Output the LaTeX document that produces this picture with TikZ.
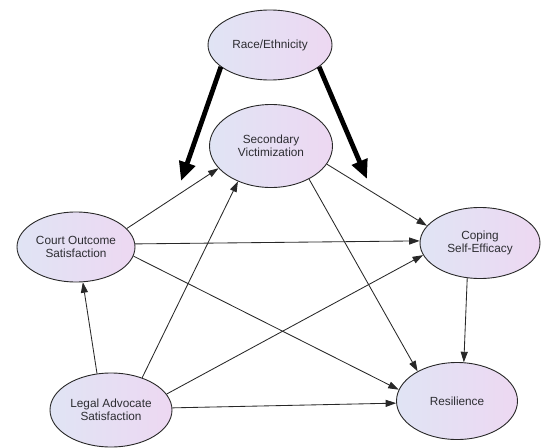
\documentclass[tikz,border=0pt]{standalone}
\usepackage{fontspec}
\setmainfont{Liberation Sans}
\usetikzlibrary{shapes.geometric,arrows.meta}
\definecolor{varleft}{RGB}{224,228,244}
\definecolor{varright}{RGB}{237,216,242}
\definecolor{linegray}{RGB}{40,40,40}
\definecolor{textgray}{RGB}{45,45,50}

\begin{document}
\begin{tikzpicture}[x=1pt,y=-1pt,
        var/.style={ellipse, draw=linegray, line width=0.9pt, left color=varleft, right color=varright,
            inner sep=0pt, align=center, text=textgray, font=\fontsize{11.8}{13.5}\selectfont},
        effect/.style={draw=linegray, line width=0.85pt, -{Triangle[length=10.5pt,width=7pt]}},
        moder/.style={line width=4.8pt, -{Triangle[length=19pt,width=16pt]}}]
        \useasboundingbox (0,0) rectangle (548,447);
        % Variables
        \node[var, minimum width=124pt, minimum height=70pt] (race) at (270,45) {Race/Ethnicity};
        \node[var, minimum width=123pt, minimum height=83pt] (secvic) at (271,146) {Secondary\\Victimization};
        \node[var, minimum width=118pt, minimum height=70pt] (court) at (76,247) {Court Outcome\\Satisfaction};
        \node[var, minimum width=120pt, minimum height=71pt] (coping) at (480,243) {Coping\\Self-Efficacy};
        \node[var, minimum width=122pt, minimum height=74pt] (legal) at (111,410) {Legal Advocate\\Satisfaction};
        \node[var, minimum width=121pt, minimum height=77pt] (resil) at (457,401) {Resilience};

        % Moderation by race
        \coordinate (modL) at (181,181);
        \coordinate (modR) at (367,179);
        \draw[moder] (race.204) -- (modL);
        \draw[moder] (race.336) -- (modR);

        % Paths
        \draw[effect] (court.20) -- (secvic.203);
        \draw[effect] (court.3) -- (coping.178);
        \draw[effect] (court.351) -- (resil.169);
        \draw[effect] (secvic.342) -- (coping.162);
        \draw[effect] (secvic.319) -- (resil.143);
        \draw[effect] (legal.111) -- (court.281);
        \draw[effect] (legal.46) -- (secvic.227);
        \draw[effect] (legal.16) -- (coping.192);
        \draw[effect] (legal.2) -- (resil.182);
        \draw[effect] (coping.250) -- (resil.80);

    \end{tikzpicture}
\end{document}
